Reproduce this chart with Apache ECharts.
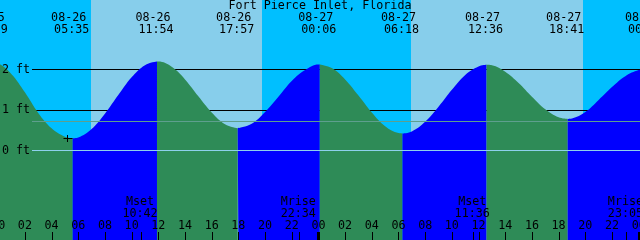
<!DOCTYPE html>
<html><head><meta charset="utf-8">
<script src="https://cdn.jsdelivr.net/npm/echarts@6/dist/echarts.min.js"></script>
<style>html,body{margin:0;padding:0;background:#00BFFF}#c{width:640px;height:240px}</style>
</head><body><div id="c"></div>
<script>
const title = 'Fort Pierce Inlet, Florida';
// tide curve samples: hours from 08-26 00:00, height in feet
const tideHours = [-0.52, 0, 1, 2, 3, 4, 5, 5.583, 6, 7, 8, 9, 10, 11, 11.9, 12, 13, 14, 15, 16, 17, 17.95,
  18, 19, 20, 21, 22, 23, 24, 24.1, 25, 26, 27, 28, 29, 30, 30.3, 31, 32, 33, 34, 35, 36, 36.6,
  37, 38, 39, 40, 41, 42, 42.68, 43, 44, 45, 46, 47, 48, 48.6];
const tideFeet = [2.18, 2.15, 1.88, 1.43, 0.92, 0.54, 0.33, 0.29, 0.31, 0.52, 0.90, 1.36, 1.80, 2.10, 2.19, 2.19, 2.06, 1.75, 1.33, 0.93, 0.64, 0.54,
  0.54, 0.65, 0.94, 1.32, 1.71, 1.98, 2.12, 2.12, 2.03, 1.75, 1.35, 0.93, 0.59, 0.42, 0.41, 0.46, 0.70, 1.07, 1.49, 1.86, 2.07, 2.11,
  2.10, 1.94, 1.66, 1.32, 1.01, 0.81, 0.77, 0.78, 0.94, 1.24, 1.56, 1.83, 1.98, 2.01];
// high / low tide events
const extremaHours = [-0.52, 5.583, 11.9, 17.95, 24.1, 30.3, 36.6, 42.68, 48.6];
const extremaDates = ['08-25', '08-26', '08-26', '08-26', '08-27', '08-27', '08-27', '08-27', '08-28'];
const extremaTimes = ['23:29', '05:35', '11:54', '17:57', '00:06', '06:18', '12:36', '18:41', '00:36'];
// sun
const sunriseHours = [6.95, 30.95];
const sunsetHours = [19.77, 43.84];
// moon
const moonHours = [10.7, 22.567, 35.6, 47.083];
const moonNames = ['Mset', 'Mrise', 'Mset', 'Mrise'];
const moonTimes = ['10:42', '22:34', '11:36', '23:05'];
// hour axis
const hourTicks = [0, 2, 4, 6, 8, 10, 12, 14, 16, 18, 20, 22, 24, 26, 28, 30, 32, 34, 36, 38, 40, 42, 44, 46, 48];
const hourLabels = ['00', '02', '04', '06', '08', '10', '12', '14', '16', '18', '20', '22', '00', '02', '04', '06', '08', '10', '12', '14', '16', '18', '20', '22', '00'];
const dayBoundaries = [0, 24, 48];
// level lines
const levelValues = [0, 1, 2];
const levelLabels = ['0 ft', '1 ft', '2 ft'];
const meanLevel = 0.73;
// current-time mark
const markHour = [5.12];
const markFeet = [0.30];

const FONT = '11.7px "DejaVu Sans Mono"';
const NIGHT = '#00BFFF', DAY = '#87CEEB', RISE = '#0000FF', FALL = '#2E8B57';

function txt(text, x, y, align) {
  return { type: 'text', style: { text: text, x: x, y: y, fill: '#000', font: FONT, align: align || 'center', verticalAlign: 'middle' } };
}

// split tide samples into rising / falling segments at the extrema
const segments = [];
let cur = [];
for (let i = 0; i < tideHours.length; i++) {
  cur.push([tideHours[i], tideFeet[i]]);
  if (extremaHours.indexOf(tideHours[i]) >= 0 && cur.length > 1) {
    segments.push(cur);
    cur = [[tideHours[i], tideFeet[i]]];
  }
}
if (cur.length > 1) segments.push(cur);

const series = [];
// day bands
series.push({
  type: 'custom', z: 1, silent: true,
  data: sunriseHours.map((h, i) => [h, sunsetHours[i]]),
  renderItem: (p, api) => {
    const cs = p.coordSys;
    const x1 = api.coord([api.value(0), 0])[0], x2 = api.coord([api.value(1), 0])[0];
    return { type: 'rect', shape: { x: Math.round(x1), y: cs.y, width: Math.round(x2) - Math.round(x1), height: cs.height }, style: { fill: DAY } };
  }
});
// black level lines (behind the tide)
series.push({
  type: 'custom', z: 2, silent: true,
  data: levelValues.filter(v => v !== 0).map(v => [0, v]),
  renderItem: (p, api) => {
    const y = Math.round(api.coord([0, api.value(1)])[1]) + 0.5;
    return { type: 'line', shape: { x1: 32, y1: y, x2: 640, y2: y }, style: { stroke: '#000', lineWidth: 1 } };
  }
});
// tide segments
segments.forEach(seg => {
  const rising = seg[seg.length - 1][1] > seg[0][1];
  series.push({
    type: 'line', z: 3, data: seg, showSymbol: false, smooth: 0.4, silent: true,
    lineStyle: { width: 0 }, areaStyle: { color: rising ? RISE : FALL, opacity: 1, origin: 'start' }
  });
});
// datum and mean lines (over the tide)
series.push({
  type: 'custom', z: 4, silent: true,
  data: [[0, 0, 0], [0, meanLevel, 1]],
  renderItem: (p, api) => {
    const y = Math.round(api.coord([0, api.value(1)])[1]) + 0.5;
    return { type: 'line', shape: { x1: 32, y1: y, x2: 640, y2: y }, style: { stroke: api.value(2) === 0 ? '#8ED0EC' : '#5E9F8E', lineWidth: 1 } };
  }
});
// level labels
series.push({
  type: 'custom', z: 5, silent: true,
  data: levelValues.map((v, i) => [0, v, i]),
  renderItem: (p, api) => {
    const y = api.coord([0, api.value(1)])[1];
    return txt(levelLabels[api.value(2)], 2, y + 0.5, 'left');
  }
});
// tide event labels (top)
series.push({
  type: 'custom', z: 5, silent: true,
  data: extremaHours.map((h, i) => [h, 0, i]),
  renderItem: (p, api) => {
    const i = api.value(2);
    const x = api.coord([api.value(0), 0])[0];
    return { type: 'group', children: [txt(extremaDates[i], x - 4, 18), txt(extremaTimes[i], x - 1, 30)] };
  }
});
// moon labels and ticks
series.push({
  type: 'custom', z: 5, silent: true,
  data: moonHours.map((h, i) => [h, 0, i]),
  renderItem: (p, api) => {
    const i = api.value(2);
    const x = api.coord([api.value(0), 0])[0];
    const lx = Math.round(x) + 0.5;
    return { type: 'group', children: [
      txt(moonNames[i], x - 1, 202), txt(moonTimes[i], x - 1, 214),
      { type: 'line', shape: { x1: lx, y1: 232, x2: lx, y2: 240 }, style: { stroke: '#000', lineWidth: 1 } }
    ] };
  }
});
// hour ticks and labels
series.push({
  type: 'custom', z: 5, silent: true,
  data: hourTicks.map((h, i) => [h, 0, i]),
  renderItem: (p, api) => {
    const i = api.value(2);
    const x = api.coord([api.value(0), 0])[0];
    const lx = Math.round(x) + 0.5;
    return { type: 'group', children: [
      txt(hourLabels[i], x, 226),
      { type: 'line', shape: { x1: lx, y1: 232, x2: lx, y2: 240 }, style: { stroke: '#000', lineWidth: 1 } }
    ] };
  }
});
// day boundary marks
series.push({
  type: 'custom', z: 5, silent: true,
  data: dayBoundaries.map(h => [h, 0]),
  renderItem: (p, api) => {
    const x = api.coord([api.value(0), 0])[0];
    return { type: 'rect', shape: { x: Math.round(x) - 1, y: 232, width: 3, height: 8 }, style: { fill: '#000' } };
  }
});
// current time "+" mark
series.push({
  type: 'custom', z: 5, silent: true,
  data: markHour.map((h, i) => [h, markFeet[i]]),
  renderItem: (p, api) => {
    const pt = api.coord([api.value(0), api.value(1)]);
    const cx = Math.round(pt[0]) + 0.5, cy = Math.round(pt[1]) + 0.5;
    return { type: 'group', children: [
      { type: 'line', shape: { x1: cx - 4, y1: cy, x2: cx + 5, y2: cy }, style: { stroke: '#000', lineWidth: 1 } },
      { type: 'line', shape: { x1: cx, y1: cy - 3.5, x2: cx, y2: cy + 3.5 }, style: { stroke: '#000', lineWidth: 1 } }
    ] };
  }
});

const chart = echarts.init(document.getElementById('c'), null, { renderer: 'canvas' });
chart.setOption({
  animation: false,
  backgroundColor: NIGHT,
  title: { text: title, left: 'center', top: 0, padding: 0, textStyle: { fontFamily: 'DejaVu Sans Mono', fontSize: 11.7, fontWeight: 'normal', color: '#000' } },
  grid: { left: 0, right: 0, top: 0, bottom: 0 },
  xAxis: { type: 'value', min: 0.135, max: 48.1, show: false },
  yAxis: { type: 'value', min: -2.23, max: 3.717, show: false },
  series: series
});
</script>
</body></html>
